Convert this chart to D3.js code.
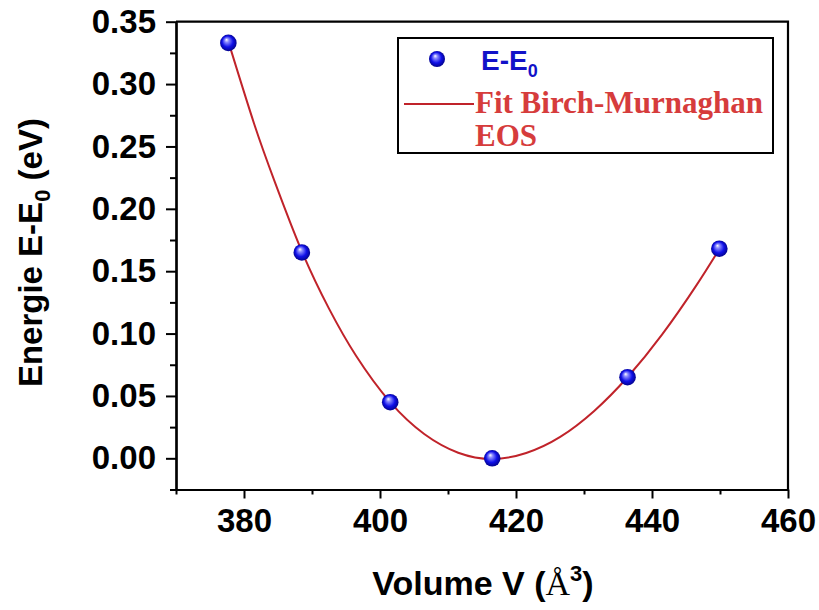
<!DOCTYPE html>
<html>
<head>
<meta charset="utf-8">
<script src="https://cdn.jsdelivr.net/npm/d3@7/dist/d3.min.js"></script>
<style>
  html, body { margin: 0; padding: 0; background: #fff; }
  svg { display: block; }
</style>
</head>
<body>
<svg id="chart" width="819" height="610"></svg>
<script>
// Computed energies relative to the minimum, per cell volume
const volumes = [377.7, 388.5, 401.5, 416.5, 436.4, 449.9];
const energies = [0.333, 0.165, 0.045, 0.000, 0.065, 0.168];

// Birch-Murnaghan fitted curve, sampled along the volume range
const fitVolumes = [377.7, 381.5, 384.5, 388.5, 392.5, 396.5, 401.5, 406.5, 411.5, 416.5, 421.5, 426.5, 431.5, 436.4, 441.5, 446.5, 449.9];
const fitEnergies = [0.334, 0.268, 0.222, 0.166, 0.120, 0.082, 0.045, 0.0195, 0.0045, -0.0005, 0.0043, 0.0172, 0.0380, 0.0650, 0.0993, 0.1384, 0.1677];

const xTicks = [380, 400, 420, 440, 460];
const xMinorTicks = [370, 390, 410, 430, 450];
const yTicks = [0.00, 0.05, 0.10, 0.15, 0.20, 0.25, 0.30, 0.35];
const yMinorTicks = [-0.025, 0.025, 0.075, 0.125, 0.175, 0.225, 0.275, 0.325];

const svg = d3.select("#chart");
const plotLeft = 176, plotRight = 788, plotTop = 21.7, plotBottom = 489.5;

const x = d3.scaleLinear().domain([370, 460]).range([plotLeft, plotRight]);
const y = d3.scaleLinear().domain([-0.025, 0.35]).range([plotBottom, plotTop]);

// sphere shading for markers
const defs = svg.append("defs");
const grad = defs.append("radialGradient")
  .attr("id", "ball").attr("cx", "0.5").attr("cy", "0.5").attr("r", "0.55")
  .attr("fx", "0.38").attr("fy", "0.3");
grad.append("stop").attr("offset", "0").attr("stop-color", "#ffffff");
grad.append("stop").attr("offset", "0.22").attr("stop-color", "#8c8cff");
grad.append("stop").attr("offset", "0.6").attr("stop-color", "#1010e8");
grad.append("stop").attr("offset", "1").attr("stop-color", "#00007a");

const font = "'Liberation Sans', Arial, sans-serif";
const serif = "'Liberation Serif', 'Times New Roman', serif";

// axes
const xAxis = d3.axisBottom(x).tickValues(xTicks).tickSize(9).tickSizeOuter(0).tickPadding(10).tickFormat(d3.format("d"));
const xMinor = d3.axisBottom(x).tickValues(xMinorTicks).tickSize(5).tickSizeOuter(0).tickFormat("");
const yAxis = d3.axisLeft(y).tickValues(yTicks).tickSize(10).tickSizeOuter(0).tickPadding(10).tickFormat(d3.format(".2f"));
const yMinor = d3.axisLeft(y).tickValues(yMinorTicks).tickSize(6).tickSizeOuter(0).tickFormat("");

function styleAxis(g) {
  g.selectAll("path").attr("stroke", "#000").attr("stroke-width", 2.2);
  g.selectAll("line").attr("stroke", "#000").attr("stroke-width", 2);
  g.selectAll("text").attr("fill", "#000").attr("font-family", font)
    .attr("font-weight", "bold").attr("font-size", 33);
}

svg.append("g").attr("transform", `translate(0,${plotBottom})`).call(xMinor).call(styleAxis);
svg.append("g").attr("transform", `translate(0,${plotBottom})`).call(xAxis).call(styleAxis);
svg.append("g").attr("transform", `translate(${plotLeft},0)`).call(yMinor).call(styleAxis);
svg.append("g").attr("transform", `translate(${plotLeft},0)`).call(yAxis).call(styleAxis);

// top and right frame
svg.append("path")
  .attr("d", `M${plotLeft},${plotTop}H${plotRight}V${plotBottom}`)
  .attr("fill", "none").attr("stroke", "#000").attr("stroke-width", 2.2);

// fit curve
const line = d3.line().x((d, i) => x(fitVolumes[i])).y(d => y(d)).curve(d3.curveNatural);
svg.append("path")
  .datum(fitEnergies)
  .attr("d", line)
  .attr("fill", "none").attr("stroke", "#c0232a").attr("stroke-width", 2);

// data markers
svg.append("g").selectAll("circle")
  .data(volumes)
  .join("circle")
  .attr("cx", d => x(d))
  .attr("cy", (d, i) => y(energies[i]))
  .attr("r", 8.3)
  .attr("fill", "url(#ball)");

// legend
const lg = svg.append("g");
lg.append("rect").attr("x", 398).attr("y", 38).attr("width", 375).attr("height", 115)
  .attr("fill", "#fff").attr("stroke", "#000").attr("stroke-width", 2);
lg.append("circle").attr("cx", 437).attr("cy", 59).attr("r", 8).attr("fill", "url(#ball)");
const t1 = lg.append("text").attr("x", 481).attr("y", 70)
  .attr("font-family", font).attr("font-weight", "bold").attr("font-size", 28).attr("fill", "#1212c8");
t1.append("tspan").text("E-E");
t1.append("tspan").attr("font-size", 18).attr("dy", 7).text("0");
lg.append("line").attr("x1", 404).attr("x2", 474).attr("y1", 104).attr("y2", 104)
  .attr("stroke", "#c0232a").attr("stroke-width", 2.2);
lg.append("text").attr("x", 475).attr("y", 113)
  .attr("font-family", serif).attr("font-weight", "bold").attr("font-size", 31).attr("fill", "#d63c3c")
  .text("Fit Birch-Murnaghan");
lg.append("text").attr("x", 475).attr("y", 146)
  .attr("font-family", serif).attr("font-weight", "bold").attr("font-size", 31).attr("fill", "#d63c3c")
  .text("EOS");

// axis titles
const xt = svg.append("text").attr("x", 483).attr("y", 595).attr("text-anchor", "middle")
  .attr("font-family", font).attr("font-weight", "bold").attr("font-size", 34).attr("fill", "#000");
xt.append("tspan").text("Volume V (");
xt.append("tspan").attr("font-family", serif).attr("font-weight", "normal").text("Å");
xt.append("tspan").attr("font-size", 22).attr("dy", -14).text("3");
xt.append("tspan").attr("dy", 14).text(")");

const yt = svg.append("text")
  .attr("transform", `translate(42,${(plotTop + plotBottom) / 2 - 3}) rotate(-90)`)
  .attr("text-anchor", "middle")
  .attr("font-family", font).attr("font-weight", "bold").attr("font-size", 33).attr("fill", "#000");
yt.append("tspan").text("Energie E-E");
yt.append("tspan").attr("font-size", 22).attr("dy", 8).text("0");
yt.append("tspan").attr("dy", -8).text(" (eV)");
</script>
</body>
</html>
